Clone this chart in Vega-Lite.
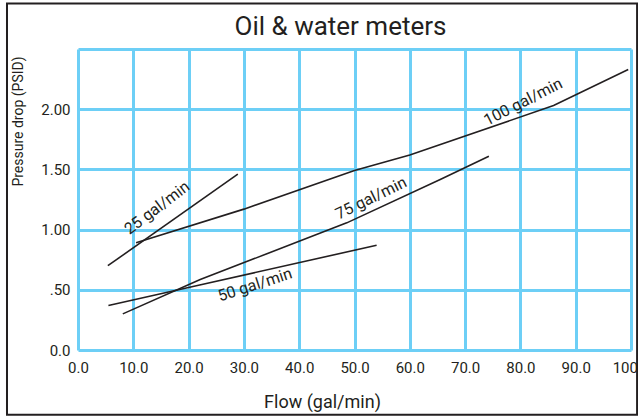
{
  "$schema": "https://vega.github.io/schema/vega-lite/v6.json",
  "width": 553,
  "height": 301,
  "autosize": {"type": "none"},
  "padding": {"left": 78, "top": 49, "right": 7, "bottom": 67},
  "background": "white",
  "title": {
    "text": "Oil & water meters",
    "fontSize": 26,
    "font": "Roboto",
    "fontWeight": "normal",
    "color": "#231f20",
    "anchor": "middle",
    "frame": "group",
    "baseline": "alphabetic",
    "offset": -58,
    "dx": -14
  },
  "datasets": {
    "lines": [
      {"series": "25 gal/min", "flow": 5.4, "drop": 0.70},
      {"series": "25 gal/min", "flow": 28.9, "drop": 1.46},
      {"series": "100 gal/min", "flow": 10.5, "drop": 0.89},
      {"series": "100 gal/min", "flow": 30.0, "drop": 1.17},
      {"series": "100 gal/min", "flow": 50.0, "drop": 1.49},
      {"series": "100 gal/min", "flow": 60.0, "drop": 1.62},
      {"series": "100 gal/min", "flow": 86.0, "drop": 2.03},
      {"series": "100 gal/min", "flow": 99.5, "drop": 2.33},
      {"series": "75 gal/min", "flow": 8.1, "drop": 0.30},
      {"series": "75 gal/min", "flow": 22.1, "drop": 0.585},
      {"series": "75 gal/min", "flow": 48.6, "drop": 1.056},
      {"series": "75 gal/min", "flow": 65.5, "drop": 1.416},
      {"series": "75 gal/min", "flow": 74.3, "drop": 1.61},
      {"series": "50 gal/min", "flow": 5.5, "drop": 0.37},
      {"series": "50 gal/min", "flow": 22.0, "drop": 0.54},
      {"series": "50 gal/min", "flow": 54.0, "drop": 0.87}
    ],
    "labels": [
      {"label": "25 gal/min", "flow": 14.3, "drop": 1.18},
      {"label": "100 gal/min", "flow": 80.5, "drop": 2.06},
      {"label": "75 gal/min", "flow": 53.0, "drop": 1.26},
      {"label": "50 gal/min", "flow": 32.0, "drop": 0.54}
    ]
  },
  "layer": [
    {
      "data": {"name": "lines"},
      "mark": {"type": "line", "color": "#231f20", "strokeWidth": 1.6},
      "encoding": {
        "x": {
          "field": "flow", "type": "quantitative",
          "scale": {"domain": [0, 100], "nice": false, "zero": false},
          "axis": {
            "title": "Flow (gal/min)",
            "values": [0, 10, 20, 30, 40, 50, 60, 70, 80, 90, 100],
            "format": ".1f",
            "labelPadding": 10,
            "labelOverlap": false,
            "labelFlush": false,
            "titleX": 244,
            "titleY": 57,
            "titleBaseline": "alphabetic",
            "titleAnchor": null
          }
        },
        "y": {
          "field": "drop", "type": "quantitative",
          "scale": {"domain": [0, 2.5], "nice": false, "zero": false},
          "axis": {
            "title": "Pressure drop (PSID)",
            "values": [0, 0.5, 1, 1.5, 2, 2.5],
            "labelExpr": "datum.value == 0 ? '0.0' : datum.value == 0.5 ? '.50' : datum.value == 2.5 ? '' : format(datum.value, '.2f')",
            "labelPadding": 8,
            "labelOverlap": false,
            "titleX": -60,
            "titleY": 72,
            "titleFontSize": 14,
            "titleAngle": -90,
            "titleBaseline": "middle",
            "titleAlign": "center"
          }
        },
        "detail": {"field": "series"}
      }
    },
    {
      "data": {"name": "labels"},
      "transform": [{"filter": "datum.label == '25 gal/min'"}],
      "mark": {"type": "text", "angle": -37, "fontSize": 16, "color": "#231f20", "font": "Roboto"},
      "encoding": {"x": {"field": "flow", "type": "quantitative"}, "y": {"field": "drop", "type": "quantitative"}, "text": {"field": "label"}}
    },
    {
      "data": {"name": "labels"},
      "transform": [{"filter": "datum.label == '100 gal/min'"}],
      "mark": {"type": "text", "angle": -27, "fontSize": 16, "color": "#231f20", "font": "Roboto"},
      "encoding": {"x": {"field": "flow", "type": "quantitative"}, "y": {"field": "drop", "type": "quantitative"}, "text": {"field": "label"}}
    },
    {
      "data": {"name": "labels"},
      "transform": [{"filter": "datum.label == '75 gal/min'"}],
      "mark": {"type": "text", "angle": -26, "fontSize": 16, "color": "#231f20", "font": "Roboto"},
      "encoding": {"x": {"field": "flow", "type": "quantitative"}, "y": {"field": "drop", "type": "quantitative"}, "text": {"field": "label"}}
    },
    {
      "data": {"name": "labels"},
      "transform": [{"filter": "datum.label == '50 gal/min'"}],
      "mark": {"type": "text", "angle": -18, "fontSize": 16, "color": "#231f20", "font": "Roboto"},
      "encoding": {"x": {"field": "flow", "type": "quantitative"}, "y": {"field": "drop", "type": "quantitative"}, "text": {"field": "label"}}
    },
    {
      "data": {"values": [{}]},
      "mark": {"type": "rect", "fill": null, "stroke": "#231f20", "strokeWidth": 2, "clip": false},
      "encoding": {
        "x": {"datum": -12.84},
        "x2": {"datum": 101.1},
        "y": {"datum": 2.877},
        "y2": {"datum": -0.537}
      }
    }
  ],
  "config": {
    "view": {"stroke": null},
    "axis": {
      "domain": false,
      "ticks": false,
      "grid": true,
      "gridColor": "#6dcff6",
      "gridWidth": 3,
      "gridOpacity": 1,
      "labelFont": "Roboto",
      "labelFontSize": 15,
      "labelColor": "#231f20",
      "titleFont": "Roboto",
      "titleFontSize": 18,
      "titleFontWeight": "normal",
      "titleColor": "#231f20"
    }
  }
}
